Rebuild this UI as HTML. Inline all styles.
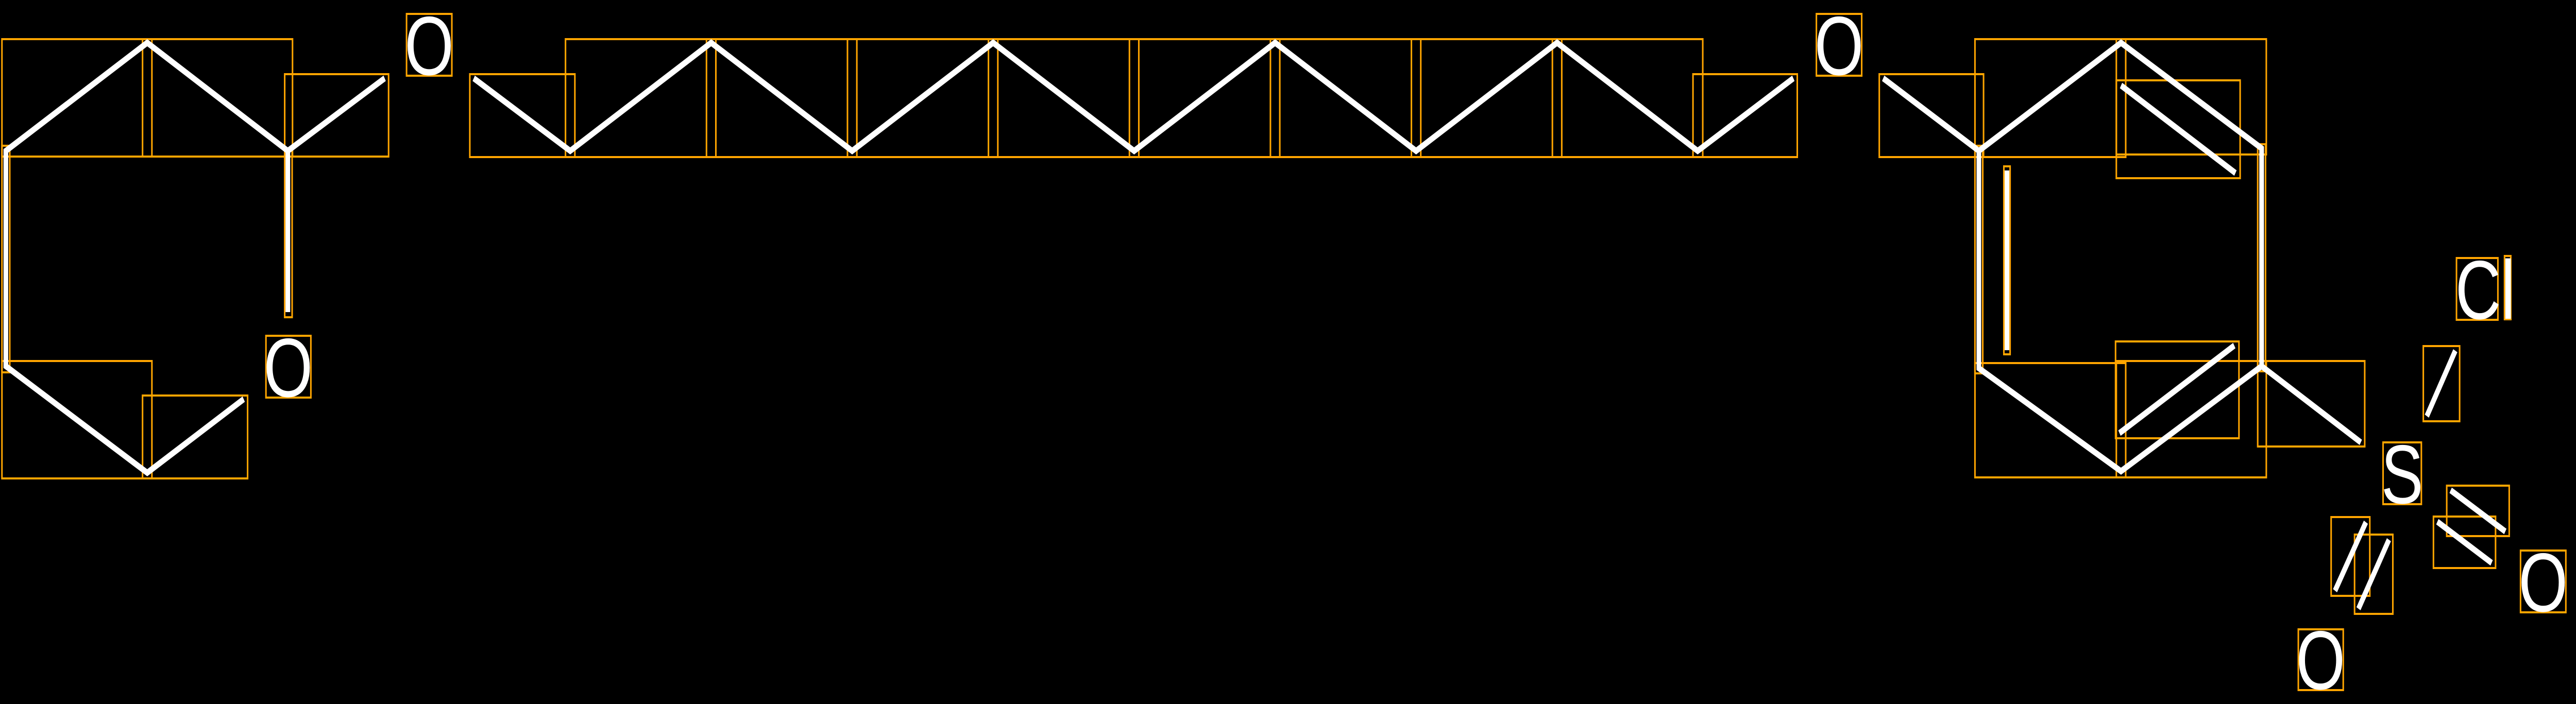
<!DOCTYPE html>
<html><head><meta charset="utf-8"><style>
html,body{margin:0;padding:0;background:#000;width:100%;height:1367px;overflow:hidden;}
svg{display:block;width:100vw;height:1367px;}
text{font-family:"Liberation Sans",sans-serif;font-size:162px;fill:#fff;}
</style></head><body>
<svg viewBox="0 0 6596 1367" preserveAspectRatio="none" xmlns="http://www.w3.org/2000/svg">
<rect width="6596" height="1367" fill="#000"/>
<g fill="none" stroke="#FFA500" stroke-width="4">
<rect x="5" y="76" width="384" height="228"/>
<rect x="365" y="76" width="384" height="228"/>
<rect x="729" y="144" width="266" height="160"/>
<rect x="729" y="288" width="19" height="328"/>
<rect x="5" y="283" width="20" height="440"/>
<rect x="5" y="701" width="384" height="228"/>
<rect x="365" y="768" width="269" height="161"/>
<rect x="1203" y="144" width="269" height="161"/>
<rect x="1448" y="76" width="385" height="229"/>
<rect x="1809" y="76" width="385" height="229"/>
<rect x="2170" y="76" width="385" height="229"/>
<rect x="2531" y="76" width="385" height="229"/>
<rect x="2892" y="76" width="385" height="229"/>
<rect x="3253" y="76" width="385" height="229"/>
<rect x="3614" y="76" width="385" height="229"/>
<rect x="3975" y="76" width="385" height="229"/>
<rect x="4335" y="144" width="267" height="161"/>
<rect x="4812" y="144" width="267" height="161"/>
<rect x="5057" y="76" width="386" height="229"/>
<rect x="5419" y="76" width="384" height="224"/>
<rect x="5781" y="280" width="20" height="441"/>
<rect x="5419" y="701" width="384" height="226"/>
<rect x="5057" y="705" width="386" height="222"/>
<rect x="5057" y="283" width="20" height="442"/>
<rect x="5131" y="323" width="16" height="365"/>
<rect x="5419" y="156" width="317" height="190"/>
<rect x="5417" y="663" width="316" height="188"/>
<rect x="5781" y="701" width="274" height="166"/>
<rect x="6205" y="672" width="93" height="146"/>
<rect x="6265" y="943" width="160" height="98"/>
<rect x="6231" y="1003" width="159" height="100"/>
<rect x="5969" y="1004" width="99" height="153"/>
<rect x="6029" y="1038" width="98" height="154"/>
<rect x="1041" y="27" width="116" height="120"/>
<rect x="4651" y="27" width="116" height="120"/>
<rect x="681" y="652" width="115" height="120"/>
<rect x="6290" y="501" width="106" height="120"/>
<rect x="6413" y="497" width="16" height="123"/>
<rect x="6102" y="859" width="98" height="120"/>
<rect x="6454" y="1069" width="116" height="120"/>
<rect x="5885" y="1222" width="115" height="118"/>
</g>
<g stroke="#fff" stroke-width="12" fill="none">
<polyline points="624,775 377,918 15,711 15,293 377,83 737,293 985,152"/>
<line x1="737" y1="293" x2="737" y2="606"/>
<polyline points="1213,152 1460,293 1821,83 2182,293 2543,83 2904,293 3265,83 3626,293 3987,83 4347,293 4592,152"/>
<polyline points="4822,152 5067,293 5431,83 5791,288 5791,711 5431,915 5067,715 5067,293"/>
<line x1="5791" y1="711" x2="6045" y2="859"/>
<line x1="5139" y1="331" x2="5139" y2="680"/>
<line x1="5431" y1="166" x2="5724" y2="336"/>
<line x1="5427" y1="841" x2="5721" y2="671"/>
<line x1="6287" y1="681" x2="6214" y2="808"/>
<line x1="6275" y1="952" x2="6415" y2="1032"/>
<line x1="6241" y1="1013" x2="6380" y2="1093"/>
<line x1="6058" y1="1014" x2="5979" y2="1147"/>
<line x1="6117" y1="1048" x2="6039" y2="1182"/>
</g>
<text x="1099" y="145" text-anchor="middle">O</text>
<text x="4709" y="145" text-anchor="middle">O</text>
<text x="738" y="770" text-anchor="middle">O</text>
<text x="6512" y="1187" text-anchor="middle">O</text>
<text x="5942" y="1338" text-anchor="middle">O</text>
<text x="6151" y="977" text-anchor="middle">S</text>
<text x="6287" y="619">Cl</text>
</svg>
</body></html>
